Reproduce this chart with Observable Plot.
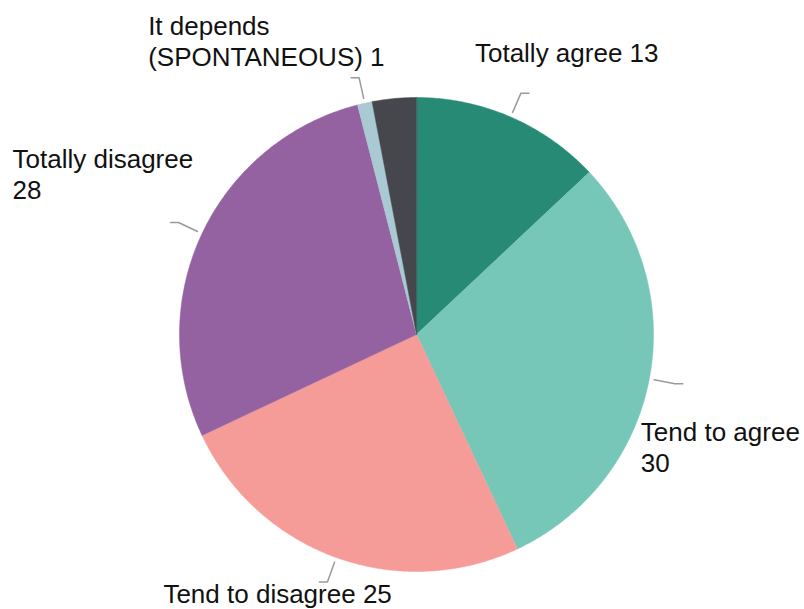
<!DOCTYPE html>
<html>
<head>
<meta charset="utf-8">
<script src="https://cdn.jsdelivr.net/npm/d3@7"></script>
<script src="https://cdn.jsdelivr.net/npm/@observablehq/plot@0.6"></script>
<style>
  html, body { margin: 0; padding: 0; background: #ffffff; }
  #chart { width: 804px; height: 609px; }
</style>
</head>
<body>
<div id="chart"></div>
<script>
// ---- Data ----
const categories = ["Totally agree", "Tend to agree", "Tend to disagree", "Totally disagree", "It depends (SPONTANEOUS)", "Don't know"];
const values = [13, 30, 25, 28, 1, 3];
const labelTexts = ["Totally agree 13", "Tend to agree\n30", "Tend to disagree 25", "Totally disagree\n28", "It depends\n(SPONTANEOUS) 1", null];
const sliceColors = ["#278a74", "#76c7b8", "#f59c98", "#9462a0", "#a9c9d3", "#45474c"];

// ---- Layout ----
const W = 804, H = 609;
const cx = 416, cy = 334, R = 237;
const leaderR1 = R + 5, leaderR2 = R + 26, leaderH = 8;
// label offsets from the end of each leader line
const labelOffsets = [[-54, -41], [-42, 63], [-156, 11], [-158, -49], [-203, -37], null];

const pie = d3.pie().sort(null).value(d => d)(values);
const pt = (a, r) => [cx + r * Math.sin(a), cy - r * Math.cos(a)];

// slice polygons computed from pie angles
const sliceMarks = pie.map((p, i) => {
  const pts = [{x: cx, y: cy}];
  const n = Math.max(2, Math.ceil((p.endAngle - p.startAngle) / (Math.PI / 360)));
  for (let k = 0; k <= n; k++) {
    const a = p.startAngle + (p.endAngle - p.startAngle) * k / n;
    const [x, y] = pt(a, R);
    pts.push({x, y});
  }
  return Plot.line(pts, {x: "x", y: "y", fill: sliceColors[i], stroke: sliceColors[i], strokeWidth: 0.5, curve: "linear-closed"});
});

// leader lines and labels
const leaders = [];
const labels = [];
pie.forEach((p, i) => {
  if (!labelTexts[i]) return;
  const a = (p.startAngle + p.endAngle) / 2;
  const [x1, y1] = pt(a, leaderR1);
  const [x2, y2] = pt(a, leaderR2);
  const s = Math.sin(a) >= 0 ? 1 : -1;
  const x3 = x2 + s * leaderH;
  leaders.push({k: i, x: x1, y: y1}, {k: i, x: x2, y: y2}, {k: i, x: x3, y: y2});
  labels.push({text: labelTexts[i], x: x3 + labelOffsets[i][0], y: y2 + labelOffsets[i][1]});
});

const chart = Plot.plot({
  width: W,
  height: H,
  margin: 0,
  x: {type: "linear", domain: [0, W], range: [0, W], axis: null},
  y: {type: "linear", domain: [0, H], range: [0, H], axis: null},
  style: {background: "#ffffff", fontFamily: "'Liberation Sans', Arial, sans-serif"},
  marks: [
    ...sliceMarks,
    Plot.line(leaders, {x: "x", y: "y", z: "k", stroke: "#9a9a9a", strokeWidth: 1.5}),
    Plot.text(labels, {x: "x", y: "y", text: "text", textAnchor: "start", lineAnchor: "middle", lineHeight: 1.18, fontSize: 26, fill: "#111111", fontFamily: "'Liberation Sans', Arial, sans-serif"})
  ]
});
document.getElementById("chart").appendChild(chart);
</script>
</body>
</html>
